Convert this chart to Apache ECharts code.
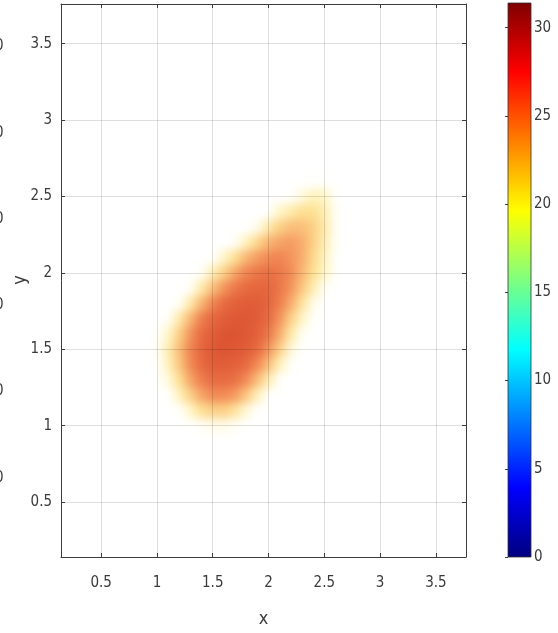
<!DOCTYPE html>
<html>
<head>
<meta charset="utf-8">
<script src="https://cdn.jsdelivr.net/npm/echarts@6/dist/echarts.min.js"></script>
<style>
  html, body { margin: 0; padding: 0; background: #fff; }
  #wrap { position: relative; width: 558px; height: 633px; overflow: hidden; background: #fff; }
  #blob, #axes { position: absolute; left: 0; top: 0; width: 558px; height: 633px; }
  #blob { filter: blur(5px); }
</style>
</head>
<body>
<div id="wrap">
  <div id="blob"></div>
  <div id="axes"></div>
</div>
<script>
// ---- data ----
const xRange = [0.14, 3.77];
const yRange = [0.14, 3.76];
const cellStep = 0.1;
const xGrid = [1.0, 1.1, 1.2, 1.3, 1.4, 1.5, 1.6, 1.7, 1.8, 1.9, 2.0, 2.1, 2.2, 2.3, 2.4, 2.5, 2.6, 2.7];
const yGrid = [2.6, 2.5, 2.4, 2.3, 2.2, 2.1, 2.0, 1.9, 1.8, 1.7, 1.6, 1.5, 1.4, 1.3, 1.2, 1.1, 1.0];
const density = [
  [0,0,0,0,0,0,0,0,0,0,0,0,0,0,1,1,0,0],
  [0,0,0,0,0,0,0,0,0,0,0,0,1,4,6,5,1,0],
  [0,0,0,0,0,0,0,0,0,0,1,5,8,10,10,7,2,0],
  [0,0,0,0,0,0,0,0,0,3,8,12,14,14,12,8,2,0],
  [0,0,0,0,0,0,0,2,6,11,15,17,18,16,12,7,2,0],
  [0,0,0,0,0,1,5,10,15,18,20,21,19,16,11,6,1,0],
  [0,0,0,0,2,7,12,17,21,23,24,23,20,15,10,5,1,0],
  [0,0,0,2,8,14,19,23,25,26,26,23,19,13,7,2,0,0],
  [0,0,2,8,15,21,25,27,28,28,26,22,16,9,3,0,0,0],
  [0,2,8,15,22,26,28,29,29,28,25,19,12,5,1,0,0,0],
  [1,5,12,19,25,28,30,30,29,27,23,16,8,2,0,0,0,0],
  [2,7,14,21,26,29,30,29,28,25,19,12,4,0,0,0,0,0],
  [1,6,13,20,25,28,28,27,25,20,14,6,1,0,0,0,0,0],
  [0,4,10,17,22,25,25,24,20,14,7,1,0,0,0,0,0,0],
  [0,1,6,12,17,20,20,18,13,6,1,0,0,0,0,0,0,0],
  [0,0,1,5,10,12,12,9,4,0,0,0,0,0,0,0,0,0],
  [0,0,0,0,2,3,3,2,0,0,0,0,0,0,0,0,0,0]
];
const densityRange = [0, 30];
const colorbarRange = [0, 31.4];
const colorbarTickStep = 5;
const strayLabelY = [48, 135, 221, 307, 393, 480];
const xTitle = 'x';
const yTitle = 'y';

// ---- build ----
const cells = [];
yGrid.forEach((y, i) => xGrid.forEach((x, j) => { if (density[i][j] > 0) cells.push([x, y, density[i][j]]); }));

const FONT = '"Liberation Sans Narrow", "DejaVu Sans Condensed", "Arial Narrow", sans-serif';
const TXT = '#3a3a3a';
const AX = '#3c3c3c';
const GRID = { left: 61, top: 4, width: 405, height: 553, outerBoundsMode: 'none', containLabel: false };

const blob = echarts.init(document.getElementById('blob'), null, { renderer: 'canvas' });
blob.setOption({
  animation: false,
  backgroundColor: '#fff',
  grid: GRID,
  xAxis: { type: 'value', min: xRange[0], max: xRange[1], show: false },
  yAxis: { type: 'value', min: yRange[0], max: yRange[1], show: false },
  visualMap: {
    show: false, type: 'continuous', min: densityRange[0], max: densityRange[1], dimension: 2, seriesIndex: 0,
    inRange: { color: ['rgba(255,255,255,0)', 'rgba(255,244,185,0.8)', 'rgba(253,222,140,0.95)', '#f9b572', '#f28a55', '#e76a40', '#dc5432'] }
  },
  series: [{
    type: 'custom',
    data: cells,
    renderItem: function (params, api) {
      const c = api.coord([api.value(0), api.value(1)]);
      const s = api.size([cellStep, cellStep]);
      return {
        type: 'rect',
        shape: { x: c[0] - s[0] / 2, y: c[1] - s[1] / 2, width: s[0] + 0.5, height: s[1] + 0.5 },
        style: { fill: api.visual('color') }
      };
    }
  }]
});

const axes = echarts.init(document.getElementById('axes'), null, { renderer: 'canvas' });
const lbl = { color: TXT, fontSize: 15, fontFamily: FONT };
const graphics = strayLabelY.map(y => ({
  type: 'text', left: -5, top: y - 9,
  style: { text: '0', fill: TXT, font: '15px ' + FONT }
}));
graphics.push({
  type: 'text', x: 20, y: 280, rotation: Math.PI / 2,
  style: { text: yTitle, fill: TXT, font: '18px ' + FONT, align: 'center', verticalAlign: 'middle' }
});
axes.setOption({
  animation: false,
  backgroundColor: 'transparent',
  grid: [GRID, { left: 508, top: 3, width: 23, height: 554, outerBoundsMode: 'none', containLabel: false }],
  xAxis: [
    {
      gridIndex: 0, type: 'value', min: xRange[0], max: xRange[1], splitNumber: 7, position: 'bottom',
      axisLine: { show: true, onZero: false, lineStyle: { color: AX, width: 1 } },
      axisTick: { show: true, inside: true, length: 4, lineStyle: { color: AX } },
      axisLabel: Object.assign({ showMinLabel: false, showMaxLabel: false, margin: 19 }, lbl),
      splitLine: { show: true, lineStyle: { color: 'rgba(0,0,0,0.13)', width: 1 } },
      name: xTitle, nameLocation: 'middle', nameGap: 53,
      nameTextStyle: { color: TXT, fontSize: 18, fontFamily: FONT }
    },
    {
      gridIndex: 0, type: 'value', min: xRange[0], max: xRange[1], splitNumber: 7, position: 'top',
      axisLine: { show: true, onZero: false, lineStyle: { color: AX, width: 1 } },
      axisTick: { show: true, inside: true, length: 4, lineStyle: { color: AX } },
      axisLabel: { show: false }, splitLine: { show: false }
    },
    { gridIndex: 1, type: 'value', min: 0, max: 1, show: false }
  ],
  yAxis: [
    {
      gridIndex: 0, type: 'value', min: yRange[0], max: yRange[1], splitNumber: 7, position: 'left',
      axisLine: { show: true, onZero: false, lineStyle: { color: AX, width: 1 } },
      axisTick: { show: true, inside: true, length: 4, lineStyle: { color: AX } },
      axisLabel: Object.assign({ showMinLabel: false, showMaxLabel: false, margin: 9 }, lbl),
      splitLine: { show: true, lineStyle: { color: 'rgba(0,0,0,0.13)', width: 1 } }
    },
    {
      gridIndex: 0, type: 'value', min: yRange[0], max: yRange[1], splitNumber: 7, position: 'right',
      axisLine: { show: true, onZero: false, lineStyle: { color: AX, width: 1 } },
      axisTick: { show: true, inside: true, length: 4, lineStyle: { color: AX } },
      axisLabel: { show: false }, splitLine: { show: false }
    },
    {
      gridIndex: 1, type: 'value', min: colorbarRange[0], max: colorbarRange[1], interval: colorbarTickStep, position: 'right',
      axisLine: { show: false },
      axisTick: { show: true, inside: true, length: 3, lineStyle: { color: AX } },
      axisLabel: Object.assign({ showMaxLabel: false, margin: 3 }, lbl),
      splitLine: { show: false }
    }
  ],
  graphic: graphics,
  series: [{
    type: 'custom',
    xAxisIndex: 2, yAxisIndex: 2,
    data: [[0, colorbarRange[0], colorbarRange[1]]],
    renderItem: function (params, api) {
      const p0 = api.coord([0, api.value(1)]);
      const p1 = api.coord([1, api.value(2)]);
      return {
        type: 'rect',
        shape: { x: p0[0], y: p1[1], width: p1[0] - p0[0], height: p0[1] - p1[1] },
        style: {
          fill: new echarts.graphic.LinearGradient(0, 1, 0, 0, [
            { offset: 0, color: '#00007f' },
            { offset: 0.125, color: '#0000ff' },
            { offset: 0.375, color: '#00ffff' },
            { offset: 0.625, color: '#ffff00' },
            { offset: 0.875, color: '#ff0000' },
            { offset: 1, color: '#7f0000' }
          ]),
          stroke: '#333', lineWidth: 0.8
        },
        z2: -1
      };
    }
  }]
});
</script>
</body>
</html>
